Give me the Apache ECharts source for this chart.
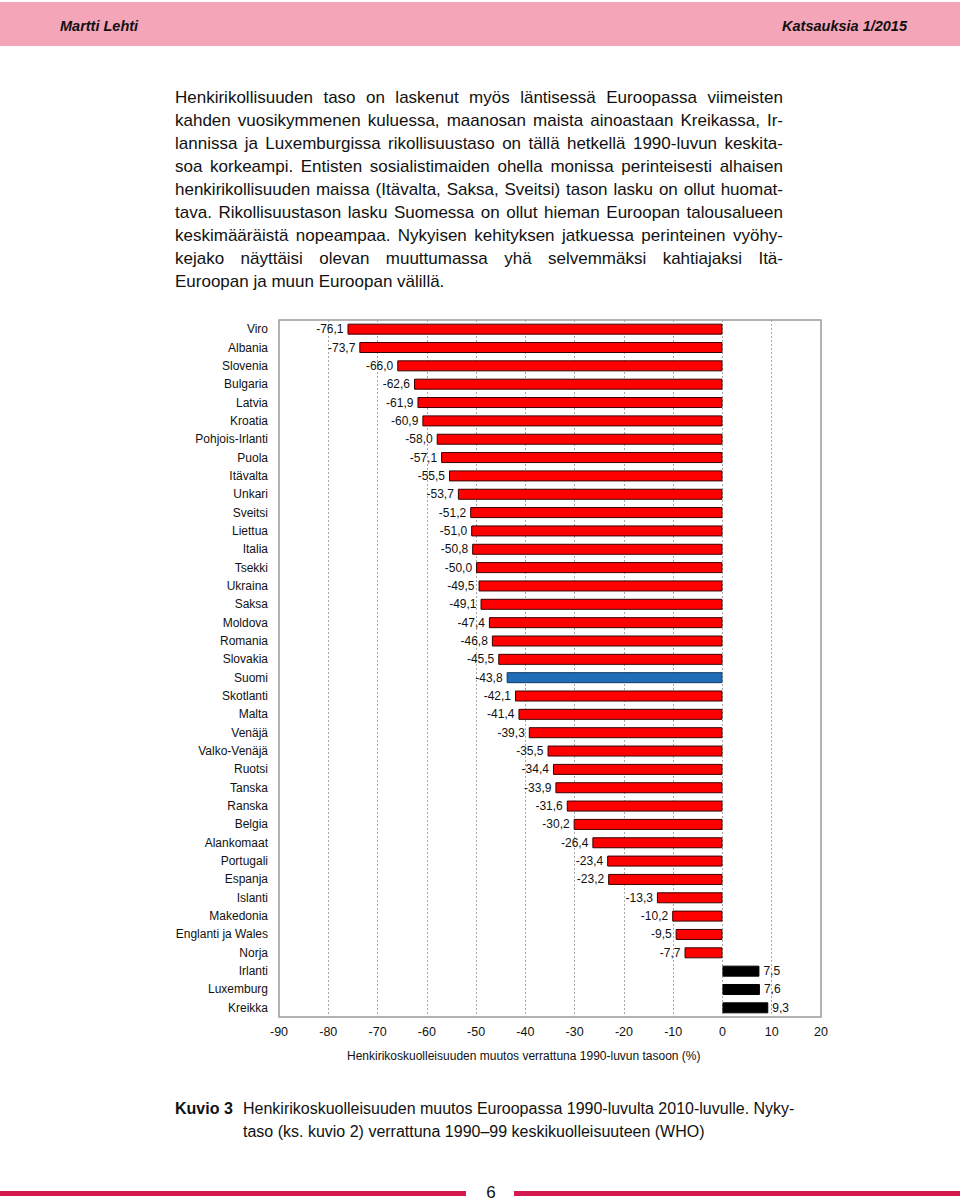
<!DOCTYPE html>
<html>
<head>
<meta charset="utf-8">
<script src="https://cdn.jsdelivr.net/npm/echarts@6/dist/echarts.min.js"></script>
<style>
  html, body { margin: 0; padding: 0; background: #fff; }
  #page { position: relative; width: 960px; height: 1202px; overflow: hidden; font-family: "Liberation Sans", Arial, Helvetica, sans-serif; color: #111; }
  #header { position: absolute; left: 0; top: 2px; width: 960px; height: 44px; background: #f4a5b8; }
  .htxt { position: absolute; top: 17px; font-size: 14.5px; font-weight: bold; font-style: italic; line-height: 18px; color: #111; }
  #para { position: absolute; left: 175px; top: 86px; width: 608px; font-size: 17px; line-height: 23px; }
  .jl { text-align: justify; text-align-last: justify; white-space: nowrap; }
  .ll { text-align: left; white-space: nowrap; }
  #chart { position: absolute; left: 0; top: 300px; width: 960px; height: 790px; }
  #cap { position: absolute; left: 175px; top: 1097px; width: 608px; font-size: 16px; line-height: 23px; }
  #capLabel { position: absolute; left: 0; top: 0; font-weight: bold; }
  #capBody { position: absolute; left: 68px; top: 0; width: 540px; }
  .fline { position: absolute; top: 1191px; height: 5px; background: #d3194d; }
  #pnum { position: absolute; left: 480px; top: 1185px; width: 22px; text-align: center; font-size: 17px; line-height: 16px; }
</style>
</head>
<body>
<div id="page">
  <div id="header"></div>
  <div class="htxt" style="left:60px;">Martti Lehti</div>
  <div class="htxt" style="right:53px;">Katsauksia 1/2015</div>

  <div id="para">
    <div class="jl">Henkirikollisuuden taso on laskenut myös läntisessä Euroopassa viimeisten</div>
    <div class="jl">kahden vuosikymmenen kuluessa, maanosan maista ainoastaan Kreikassa, Ir-</div>
    <div class="jl">lannissa ja Luxemburgissa rikollisuustaso on tällä hetkellä 1990-luvun keskita-</div>
    <div class="jl">soa korkeampi. Entisten sosialistimaiden ohella monissa perinteisesti alhaisen</div>
    <div class="jl">henkirikollisuuden maissa (Itävalta, Saksa, Sveitsi) tason lasku on ollut huomat-</div>
    <div class="jl">tava. Rikollisuustason lasku Suomessa on ollut hieman Euroopan talousalueen</div>
    <div class="jl">keskimääräistä nopeampaa. Nykyisen kehityksen jatkuessa perinteinen vyöhy-</div>
    <div class="jl">kejako näyttäisi olevan muuttumassa yhä selvemmäksi kahtiajaksi Itä-</div>
    <div class="ll">Euroopan ja muun Euroopan välillä.</div>
  </div>

  <div id="chart"></div>

  <div id="cap">
    <div id="capLabel">Kuvio 3</div>
    <div id="capBody">
      <div class="jl">Henkirikoskuolleisuuden muutos Euroopassa 1990-luvulta 2010-luvulle. Nyky-</div>
      <div class="ll">taso (ks. kuvio 2) verrattuna 1990–99 keskikuolleisuuteen (WHO)</div>
    </div>
  </div>

  <div class="fline" style="left:0; width:466px;"></div>
  <div class="fline" style="left:514px; width:446px;"></div>
  <div id="pnum">6</div>
</div>

<script>
// ---- data ----
const countries = ["Viro","Albania","Slovenia","Bulgaria","Latvia","Kroatia","Pohjois-Irlanti","Puola","Itävalta","Unkari","Sveitsi","Liettua","Italia","Tsekki","Ukraina","Saksa","Moldova","Romania","Slovakia","Suomi","Skotlanti","Malta","Venäjä","Valko-Venäjä","Ruotsi","Tanska","Ranska","Belgia","Alankomaat","Portugali","Espanja","Islanti","Makedonia","Englanti ja Wales","Norja","Irlanti","Luxemburg","Kreikka"];
const changes = [-76.1,-73.7,-66.0,-62.6,-61.9,-60.9,-58.0,-57.1,-55.5,-53.7,-51.2,-51.0,-50.8,-50.0,-49.5,-49.1,-47.4,-46.8,-45.5,-43.8,-42.1,-41.4,-39.3,-35.5,-34.4,-33.9,-31.6,-30.2,-26.4,-23.4,-23.2,-13.3,-10.2,-9.5,-7.7,7.5,7.6,9.3];
const highlightCountry = "Suomi";
const axisTitle = "Henkirikoskuolleisuuden muutos verrattuna 1990-luvun tasoon (%)";
const xMin = -90, xMax = 20, xStep = 10;

const fmt = v => v.toFixed(1).replace('.', ',');

const barData = changes.map((v, i) => {
  const isHi = countries[i] === highlightCountry;
  const color = isHi ? '#1f6db5' : (v > 0 ? '#000000' : '#ff0000');
  const border = isHi ? '#123a66' : (v > 0 ? '#000000' : '#3a0000');
  return {
    value: v,
    itemStyle: { color: color, borderColor: border, borderWidth: 1 },
    label: { position: v < 0 ? 'left' : 'right' }
  };
});

const chart = echarts.init(document.getElementById('chart'), null, { renderer: 'svg' });
chart.setOption({
  animation: false,
  grid: {
    left: 279, top: 20, width: 542, height: 697,
    show: true, borderColor: '#9a9a9a', borderWidth: 1.5, backgroundColor: 'transparent'
  },
  xAxis: {
    type: 'value', min: xMin, max: xMax, interval: xStep,
    axisLine: { show: false }, axisTick: { show: false },
    axisLabel: { color: '#111', fontSize: 12.5, margin: 8, fontFamily: 'Liberation Sans, Arial, sans-serif' },
    splitLine: { show: true, showMinLine: false, showMaxLine: false, lineStyle: { color: '#a8a8a8', type: [2, 2], width: 1 } }
  },
  yAxis: {
    type: 'category', data: countries, inverse: true,
    axisLine: { show: false }, axisTick: { show: false },
    axisLabel: { color: '#111', fontSize: 12, margin: 11, fontFamily: 'Liberation Sans, Arial, sans-serif' },
    splitLine: { show: false }
  },
  series: [{
    type: 'bar', data: barData, barWidth: 11,
    label: {
      show: true, distance: 4, color: '#111', fontSize: 12,
      fontFamily: 'Liberation Sans, Arial, sans-serif',
      formatter: p => fmt(p.value)
    }
  }],
  graphic: [{
    type: 'text', left: 525 - 178, top: 750,
    style: { text: axisTitle, fill: '#111', font: '12px "Liberation Sans", Arial, sans-serif' }
  }]
});
</script>
</body>
</html>
